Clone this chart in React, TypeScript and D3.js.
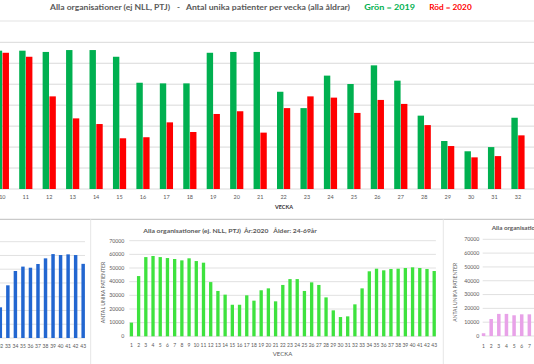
import React from "react";
import * as d3 from "d3";

// ---------- data ----------
const topWeeks = d3.range(10, 33);
const green2019 = [66000, 66000, 65400, 66300, 66300, 63100, 50700, 50400, 50400, 65000, 65400, 65400, 46400, 38600, 54100, 50100, 59000, 51700, 35000, 22900, 18000, 20000, 34000];
const red2020 = [65000, 63100, 44200, 33700, 31000, 24200, 24700, 31800, 27200, 35800, 37100, 26900, 38600, 44200, 43600, 36300, 42500, 40600, 30500, 20500, 15100, 15700, 25600];

const midWeeks = d3.range(1, 44);
const mid2020 = [10000, 44100, 58000, 58800, 58000, 57300, 56600, 55600, 57100, 55100, 53900, 39700, 33200, 30500, 23100, 23100, 30000, 26100, 33700, 35100, 25600, 37600, 41900, 41900, 33200, 39500, 37600, 28500, 19000, 14100, 14600, 23400, 35100, 47600, 49500, 48300, 49300, 49500, 50000, 50500, 50000, 49300, 47800];

const leftWeeks = d3.range(32, 44);
const leftValues = [22300, 38300, 48700, 51900, 51100, 53800, 57900, 61000, 60300, 60800, 60300, 53900];

const rightWeeks = d3.range(1, 8);
const rightValues = [2000, 12300, 16000, 16000, 15000, 15700, 15700];

const yTicks = [0, 10000, 20000, 30000, 40000, 50000, 60000, 70000];

const topTitleA = "Alla organisationer (ej NLL,  PTJ)";
const topTitleB = "Antal unika patienter per vecka (alla åldrar)";
const legendGreen = "Grön = 2019";
const legendRed = "Röd = 2020";
const midTitleA = "Alla organisationer (ej. NLL, PTJ)";
const midTitleB = "År:2020";
const midTitleC = "Ålder: 24-69år";
const rightTitle = "Alla organisationer (ej. NLL, PTJ)";
const yTitle = "ANTAL UNIKA PATIENTER";
const xTitle = "VECKA";

const FONT = "Lato, 'Open Sans', sans-serif";
const GRID = "#d9d9d9";
const TXT = "#595959";

export default function App() {
  const W = 534, H = 364;

  // top chart scales
  const xTop = d3.scaleBand<number>().domain(topWeeks).range([-9.36, 529.7]).paddingInner(0);
  const yTop = d3.scaleLinear().domain([0, 70000]).range([189, 42.3]);
  const xSub = d3.scaleBand<string>().domain(["2019", "2020"]).range([-6.6, 6.6]).paddingInner(0.06);

  // middle
  const xMid = d3.scaleBand<number>().domain(midWeeks).range([129.74, 435.86]).paddingInner(0.54);
  const yMid = d3.scaleLinear().domain([0, 70000]).range([336.3, 240.7]);

  // left
  const xLeft = d3.scaleBand<number>().domain(leftWeeks).range([-1.4, 84.9]).paddingInner(0.54);
  const yLeft = d3.scaleLinear().domain([0, 70000]).range([338, 241.7]);

  // right
  const xRight = d3.scaleBand<number>().domain(rightWeeks).range([481.8, 531.1]).paddingInner(0.54);
  const yRight = d3.scaleLinear().domain([0, 70000]).range([336, 239.3]);

  const topSeries = [
    { key: "2019", values: green2019, color: "#00B050" },
    { key: "2020", values: red2020, color: "#FF0000" },
  ];

  return (
    <svg width={W} height={H} style={{ position: "absolute", left: 0, top: 0, background: "#fff" }} fontFamily={FONT}>
      <rect x={0} y={0} width={W} height={H} fill="#fff" />
      {/* Top title */}
      <text x={50} y={10} fontSize={8} fontWeight={700} fill={TXT} textLength={120} lengthAdjust="spacingAndGlyphs">{topTitleA}</text>
      <text x={177} y={10} fontSize={8} fontWeight={700} fill={TXT}>-</text>
      <text x={186} y={10} fontSize={8} fontWeight={700} fill={TXT} textLength={164} lengthAdjust="spacingAndGlyphs">{topTitleB}</text>
      <text x={364.3} y={10} fontSize={8} fontWeight={700} fill="#00B050" textLength={50.7} lengthAdjust="spacingAndGlyphs">{legendGreen}</text>
      <text x={429.3} y={10} fontSize={8} fontWeight={700} fill="#FF0000" textLength={42.4} lengthAdjust="spacingAndGlyphs">{legendRed}</text>
      <line x1={0} x2={W} y1={21} y2={21} stroke="#e3e3e3" strokeWidth={1.2} />

      {/* Top chart gridlines */}
      {yTicks.map((t) => (
        <line key={"tg" + t} x1={0} x2={W} y1={yTop(t)} y2={yTop(t)} stroke={GRID} strokeWidth={1} />
      ))}
      {topSeries.map((s) =>
        topWeeks.map((w, i) => {
          const cx = (xTop(w) as number) + xTop.bandwidth() / 2;
          const x = cx + (xSub(s.key) as number);
          return (
            <rect key={s.key + w} x={x} y={yTop(s.values[i])} width={xSub.bandwidth()} height={yTop(0) - yTop(s.values[i])} fill={s.color} />
          );
        })
      )}
      {topWeeks.map((w) => (
        <text key={"tl" + w} x={(xTop(w) as number) + xTop.bandwidth() / 2} y={198.5} fontSize={5.5} fill={TXT} textAnchor="middle">{w}</text>
      ))}
      <text x={284} y={209} fontSize={6} fontWeight={700} fill="#333" textAnchor="middle" textLength={18} lengthAdjust="spacingAndGlyphs">{xTitle}</text>

      {/* separators */}
      <line x1={0} x2={W} y1={219.3} y2={219.3} stroke="#bdbdbd" strokeWidth={1} />
      <line x1={90.7} x2={90.7} y1={219.3} y2={H} stroke="#e6e6e6" strokeWidth={1} />
      <line x1={443.3} x2={443.3} y1={219.3} y2={H} stroke="#e6e6e6" strokeWidth={1} />

      {/* Left panel */}
      {yTicks.map((t) => (
        <line key={"lg" + t} x1={0} x2={85} y1={yLeft(t)} y2={yLeft(t)} stroke={GRID} strokeWidth={0.8} />
      ))}
      {leftWeeks.map((w, i) => (
        <rect key={"lb" + w} x={xLeft(w)} y={yLeft(leftValues[i])} width={xLeft.bandwidth()} height={yLeft(0) - yLeft(leftValues[i])} fill="#2266D0" />
      ))}
      {leftWeeks.map((w) => (
        <text key={"ll" + w} x={(xLeft(w) as number) + xLeft.bandwidth() / 2} y={347.5} fontSize={5} fill={TXT} textAnchor="middle">{w}</text>
      ))}

      {/* Middle panel */}
      <text x={143.3} y={233} fontSize={6.3} fontWeight={700} fill={TXT} textLength={97.7} lengthAdjust="spacingAndGlyphs">{midTitleA}</text>
      <text x={244} y={233} fontSize={6.3} fontWeight={700} fill={TXT} textLength={24.3} lengthAdjust="spacingAndGlyphs">{midTitleB}</text>
      <text x={273.3} y={233} fontSize={6.3} fontWeight={700} fill={TXT} textLength={43.4} lengthAdjust="spacingAndGlyphs">{midTitleC}</text>
      {yTicks.map((t) => (
        <g key={"mg" + t}>
          <line x1={129.3} x2={435.9} y1={yMid(t)} y2={yMid(t)} stroke={GRID} strokeWidth={0.8} />
          <text x={124.3} y={yMid(t) + 1.8} fontSize={5.2} fill={TXT} textAnchor="end">{t}</text>
        </g>
      ))}
      {midWeeks.map((w, i) => (
        <rect key={"mb" + w} x={xMid(w)} y={yMid(mid2020[i])} width={xMid.bandwidth()} height={yMid(0) - yMid(mid2020[i])} fill="#3EE23E" />
      ))}
      {midWeeks.map((w) => (
        <text key={"ml" + w} x={(xMid(w) as number) + xMid.bandwidth() / 2} y={347.3} fontSize={5} fill={TXT} textAnchor="middle">{w}</text>
      ))}
      <text transform="translate(105.2,292.5) rotate(-90)" fontSize={5.3} fill={TXT} textAnchor="middle" textLength={61.6} lengthAdjust="spacingAndGlyphs">{yTitle}</text>
      <text x={282.5} y={356.3} fontSize={6} fill={TXT} textAnchor="middle">{xTitle}</text>

      {/* Right panel */}
      <text x={491.7} y={229.7} fontSize={6.3} fontWeight={700} fill={TXT}>{rightTitle}</text>
      {yTicks.map((t) => (
        <g key={"rg" + t}>
          <line x1={482.7} x2={W} y1={yRight(t)} y2={yRight(t)} stroke={GRID} strokeWidth={0.8} />
          <text x={479.3} y={yRight(t) + 1.8} fontSize={5.2} fill={TXT} textAnchor="end">{t}</text>
        </g>
      ))}
      {rightWeeks.map((w, i) => (
        <rect key={"rb" + w} x={xRight(w)} y={yRight(rightValues[i])} width={xRight.bandwidth()} height={yRight(0) - yRight(rightValues[i])} fill="#E8A2E8" />
      ))}
      {rightWeeks.map((w) => (
        <text key={"rl" + w} x={(xRight(w) as number) + xRight.bandwidth() / 2} y={347.5} fontSize={5} fill={TXT} textAnchor="middle">{w}</text>
      ))}
      <text transform="translate(457,292.3) rotate(-90)" fontSize={5.3} fill={TXT} textAnchor="middle" textLength={58.7} lengthAdjust="spacingAndGlyphs">{yTitle}</text>
    </svg>
  );
}
